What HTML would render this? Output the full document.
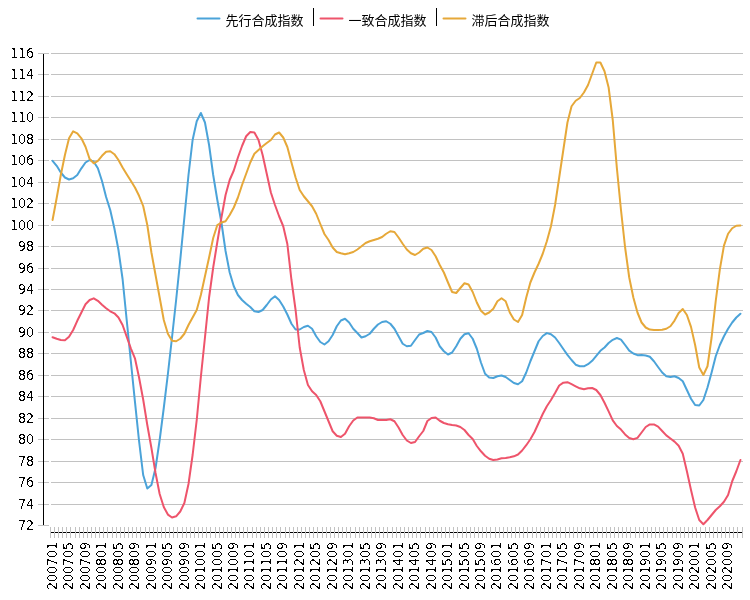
<!DOCTYPE html>
<html><head><meta charset="utf-8"><style>html,body{margin:0;padding:0;background:#fff;width:750px;height:600px;overflow:hidden}svg{display:block}</style></head>
<body><svg width="750" height="600" viewBox="0 0 750 600">
<defs><filter id="fy" filterUnits="userSpaceOnUse" x="0" y="0" width="750" height="600"><feComponentTransfer><feFuncA type="discrete" tableValues="0 0 0 0 0 0 0 0 0 0 0 1 1 1 1 1 1 1 1 1"/></feComponentTransfer></filter><filter id="fx" filterUnits="userSpaceOnUse" x="0" y="0" width="750" height="600"><feComponentTransfer><feFuncA type="discrete" tableValues="0 0 0 0 0 0 0 0 0 0 0 1 1 1 1 1 1 1 1 1"/></feComponentTransfer></filter></defs>
<rect width="750" height="600" fill="#fff"/>
<rect x="51" y="53" width="692" height="1" fill="#c2c2c2"/>
<rect x="38" y="53" width="11" height="1" fill="#c2c2c2"/>
<rect x="51" y="74" width="692" height="1" fill="#c2c2c2"/>
<rect x="38" y="74" width="11" height="1" fill="#c2c2c2"/>
<rect x="51" y="96" width="692" height="1" fill="#c2c2c2"/>
<rect x="38" y="96" width="11" height="1" fill="#c2c2c2"/>
<rect x="51" y="117" width="692" height="1" fill="#c2c2c2"/>
<rect x="38" y="117" width="11" height="1" fill="#c2c2c2"/>
<rect x="51" y="139" width="692" height="1" fill="#c2c2c2"/>
<rect x="38" y="139" width="11" height="1" fill="#c2c2c2"/>
<rect x="51" y="160" width="692" height="1" fill="#c2c2c2"/>
<rect x="38" y="160" width="11" height="1" fill="#c2c2c2"/>
<rect x="51" y="182" width="692" height="1" fill="#c2c2c2"/>
<rect x="38" y="182" width="11" height="1" fill="#c2c2c2"/>
<rect x="51" y="203" width="692" height="1" fill="#c2c2c2"/>
<rect x="38" y="203" width="11" height="1" fill="#c2c2c2"/>
<rect x="51" y="225" width="692" height="1" fill="#c2c2c2"/>
<rect x="38" y="225" width="11" height="1" fill="#c2c2c2"/>
<rect x="51" y="246" width="692" height="1" fill="#c2c2c2"/>
<rect x="38" y="246" width="11" height="1" fill="#c2c2c2"/>
<rect x="51" y="268" width="692" height="1" fill="#c2c2c2"/>
<rect x="38" y="268" width="11" height="1" fill="#c2c2c2"/>
<rect x="51" y="289" width="692" height="1" fill="#c2c2c2"/>
<rect x="38" y="289" width="11" height="1" fill="#c2c2c2"/>
<rect x="51" y="310" width="692" height="1" fill="#c2c2c2"/>
<rect x="38" y="310" width="11" height="1" fill="#c2c2c2"/>
<rect x="51" y="332" width="692" height="1" fill="#c2c2c2"/>
<rect x="38" y="332" width="11" height="1" fill="#c2c2c2"/>
<rect x="51" y="353" width="692" height="1" fill="#c2c2c2"/>
<rect x="38" y="353" width="11" height="1" fill="#c2c2c2"/>
<rect x="51" y="375" width="692" height="1" fill="#c2c2c2"/>
<rect x="38" y="375" width="11" height="1" fill="#c2c2c2"/>
<rect x="51" y="396" width="692" height="1" fill="#c2c2c2"/>
<rect x="38" y="396" width="11" height="1" fill="#c2c2c2"/>
<rect x="51" y="418" width="692" height="1" fill="#c2c2c2"/>
<rect x="38" y="418" width="11" height="1" fill="#c2c2c2"/>
<rect x="51" y="439" width="692" height="1" fill="#c2c2c2"/>
<rect x="38" y="439" width="11" height="1" fill="#c2c2c2"/>
<rect x="51" y="461" width="692" height="1" fill="#c2c2c2"/>
<rect x="38" y="461" width="11" height="1" fill="#c2c2c2"/>
<rect x="51" y="482" width="692" height="1" fill="#c2c2c2"/>
<rect x="38" y="482" width="11" height="1" fill="#c2c2c2"/>
<rect x="51" y="504" width="692" height="1" fill="#c2c2c2"/>
<rect x="38" y="504" width="11" height="1" fill="#c2c2c2"/>
<rect x="38" y="525" width="11" height="1" fill="#c2c2c2"/>
<rect x="43" y="54" width="1" height="471" fill="#000"/>
<rect x="50" y="532" width="693" height="1" fill="#000"/>
<rect x="50" y="527" width="1" height="11" fill="#c2c2c2"/>
<rect x="54" y="527" width="1" height="11" fill="#c2c2c2"/>
<rect x="58" y="527" width="1" height="11" fill="#c2c2c2"/>
<rect x="62" y="527" width="1" height="11" fill="#c2c2c2"/>
<rect x="66" y="527" width="1" height="11" fill="#c2c2c2"/>
<rect x="70" y="527" width="1" height="11" fill="#c2c2c2"/>
<rect x="75" y="527" width="1" height="11" fill="#c2c2c2"/>
<rect x="79" y="527" width="1" height="11" fill="#c2c2c2"/>
<rect x="83" y="527" width="1" height="11" fill="#c2c2c2"/>
<rect x="87" y="527" width="1" height="11" fill="#c2c2c2"/>
<rect x="91" y="527" width="1" height="11" fill="#c2c2c2"/>
<rect x="95" y="527" width="1" height="11" fill="#c2c2c2"/>
<rect x="99" y="527" width="1" height="11" fill="#c2c2c2"/>
<rect x="103" y="527" width="1" height="11" fill="#c2c2c2"/>
<rect x="107" y="527" width="1" height="11" fill="#c2c2c2"/>
<rect x="112" y="527" width="1" height="11" fill="#c2c2c2"/>
<rect x="116" y="527" width="1" height="11" fill="#c2c2c2"/>
<rect x="120" y="527" width="1" height="11" fill="#c2c2c2"/>
<rect x="124" y="527" width="1" height="11" fill="#c2c2c2"/>
<rect x="128" y="527" width="1" height="11" fill="#c2c2c2"/>
<rect x="132" y="527" width="1" height="11" fill="#c2c2c2"/>
<rect x="136" y="527" width="1" height="11" fill="#c2c2c2"/>
<rect x="140" y="527" width="1" height="11" fill="#c2c2c2"/>
<rect x="145" y="527" width="1" height="11" fill="#c2c2c2"/>
<rect x="149" y="527" width="1" height="11" fill="#c2c2c2"/>
<rect x="153" y="527" width="1" height="11" fill="#c2c2c2"/>
<rect x="157" y="527" width="1" height="11" fill="#c2c2c2"/>
<rect x="161" y="527" width="1" height="11" fill="#c2c2c2"/>
<rect x="165" y="527" width="1" height="11" fill="#c2c2c2"/>
<rect x="169" y="527" width="1" height="11" fill="#c2c2c2"/>
<rect x="173" y="527" width="1" height="11" fill="#c2c2c2"/>
<rect x="177" y="527" width="1" height="11" fill="#c2c2c2"/>
<rect x="182" y="527" width="1" height="11" fill="#c2c2c2"/>
<rect x="186" y="527" width="1" height="11" fill="#c2c2c2"/>
<rect x="190" y="527" width="1" height="11" fill="#c2c2c2"/>
<rect x="194" y="527" width="1" height="11" fill="#c2c2c2"/>
<rect x="198" y="527" width="1" height="11" fill="#c2c2c2"/>
<rect x="202" y="527" width="1" height="11" fill="#c2c2c2"/>
<rect x="206" y="527" width="1" height="11" fill="#c2c2c2"/>
<rect x="210" y="527" width="1" height="11" fill="#c2c2c2"/>
<rect x="215" y="527" width="1" height="11" fill="#c2c2c2"/>
<rect x="219" y="527" width="1" height="11" fill="#c2c2c2"/>
<rect x="223" y="527" width="1" height="11" fill="#c2c2c2"/>
<rect x="227" y="527" width="1" height="11" fill="#c2c2c2"/>
<rect x="231" y="527" width="1" height="11" fill="#c2c2c2"/>
<rect x="235" y="527" width="1" height="11" fill="#c2c2c2"/>
<rect x="239" y="527" width="1" height="11" fill="#c2c2c2"/>
<rect x="243" y="527" width="1" height="11" fill="#c2c2c2"/>
<rect x="247" y="527" width="1" height="11" fill="#c2c2c2"/>
<rect x="252" y="527" width="1" height="11" fill="#c2c2c2"/>
<rect x="256" y="527" width="1" height="11" fill="#c2c2c2"/>
<rect x="260" y="527" width="1" height="11" fill="#c2c2c2"/>
<rect x="264" y="527" width="1" height="11" fill="#c2c2c2"/>
<rect x="268" y="527" width="1" height="11" fill="#c2c2c2"/>
<rect x="272" y="527" width="1" height="11" fill="#c2c2c2"/>
<rect x="276" y="527" width="1" height="11" fill="#c2c2c2"/>
<rect x="280" y="527" width="1" height="11" fill="#c2c2c2"/>
<rect x="285" y="527" width="1" height="11" fill="#c2c2c2"/>
<rect x="289" y="527" width="1" height="11" fill="#c2c2c2"/>
<rect x="293" y="527" width="1" height="11" fill="#c2c2c2"/>
<rect x="297" y="527" width="1" height="11" fill="#c2c2c2"/>
<rect x="301" y="527" width="1" height="11" fill="#c2c2c2"/>
<rect x="305" y="527" width="1" height="11" fill="#c2c2c2"/>
<rect x="309" y="527" width="1" height="11" fill="#c2c2c2"/>
<rect x="313" y="527" width="1" height="11" fill="#c2c2c2"/>
<rect x="317" y="527" width="1" height="11" fill="#c2c2c2"/>
<rect x="322" y="527" width="1" height="11" fill="#c2c2c2"/>
<rect x="326" y="527" width="1" height="11" fill="#c2c2c2"/>
<rect x="330" y="527" width="1" height="11" fill="#c2c2c2"/>
<rect x="334" y="527" width="1" height="11" fill="#c2c2c2"/>
<rect x="338" y="527" width="1" height="11" fill="#c2c2c2"/>
<rect x="342" y="527" width="1" height="11" fill="#c2c2c2"/>
<rect x="346" y="527" width="1" height="11" fill="#c2c2c2"/>
<rect x="350" y="527" width="1" height="11" fill="#c2c2c2"/>
<rect x="355" y="527" width="1" height="11" fill="#c2c2c2"/>
<rect x="359" y="527" width="1" height="11" fill="#c2c2c2"/>
<rect x="363" y="527" width="1" height="11" fill="#c2c2c2"/>
<rect x="367" y="527" width="1" height="11" fill="#c2c2c2"/>
<rect x="371" y="527" width="1" height="11" fill="#c2c2c2"/>
<rect x="375" y="527" width="1" height="11" fill="#c2c2c2"/>
<rect x="379" y="527" width="1" height="11" fill="#c2c2c2"/>
<rect x="383" y="527" width="1" height="11" fill="#c2c2c2"/>
<rect x="387" y="527" width="1" height="11" fill="#c2c2c2"/>
<rect x="392" y="527" width="1" height="11" fill="#c2c2c2"/>
<rect x="396" y="527" width="1" height="11" fill="#c2c2c2"/>
<rect x="400" y="527" width="1" height="11" fill="#c2c2c2"/>
<rect x="404" y="527" width="1" height="11" fill="#c2c2c2"/>
<rect x="408" y="527" width="1" height="11" fill="#c2c2c2"/>
<rect x="412" y="527" width="1" height="11" fill="#c2c2c2"/>
<rect x="416" y="527" width="1" height="11" fill="#c2c2c2"/>
<rect x="420" y="527" width="1" height="11" fill="#c2c2c2"/>
<rect x="425" y="527" width="1" height="11" fill="#c2c2c2"/>
<rect x="429" y="527" width="1" height="11" fill="#c2c2c2"/>
<rect x="433" y="527" width="1" height="11" fill="#c2c2c2"/>
<rect x="437" y="527" width="1" height="11" fill="#c2c2c2"/>
<rect x="441" y="527" width="1" height="11" fill="#c2c2c2"/>
<rect x="445" y="527" width="1" height="11" fill="#c2c2c2"/>
<rect x="449" y="527" width="1" height="11" fill="#c2c2c2"/>
<rect x="453" y="527" width="1" height="11" fill="#c2c2c2"/>
<rect x="457" y="527" width="1" height="11" fill="#c2c2c2"/>
<rect x="462" y="527" width="1" height="11" fill="#c2c2c2"/>
<rect x="466" y="527" width="1" height="11" fill="#c2c2c2"/>
<rect x="470" y="527" width="1" height="11" fill="#c2c2c2"/>
<rect x="474" y="527" width="1" height="11" fill="#c2c2c2"/>
<rect x="478" y="527" width="1" height="11" fill="#c2c2c2"/>
<rect x="482" y="527" width="1" height="11" fill="#c2c2c2"/>
<rect x="486" y="527" width="1" height="11" fill="#c2c2c2"/>
<rect x="490" y="527" width="1" height="11" fill="#c2c2c2"/>
<rect x="495" y="527" width="1" height="11" fill="#c2c2c2"/>
<rect x="499" y="527" width="1" height="11" fill="#c2c2c2"/>
<rect x="503" y="527" width="1" height="11" fill="#c2c2c2"/>
<rect x="507" y="527" width="1" height="11" fill="#c2c2c2"/>
<rect x="511" y="527" width="1" height="11" fill="#c2c2c2"/>
<rect x="515" y="527" width="1" height="11" fill="#c2c2c2"/>
<rect x="519" y="527" width="1" height="11" fill="#c2c2c2"/>
<rect x="523" y="527" width="1" height="11" fill="#c2c2c2"/>
<rect x="527" y="527" width="1" height="11" fill="#c2c2c2"/>
<rect x="532" y="527" width="1" height="11" fill="#c2c2c2"/>
<rect x="536" y="527" width="1" height="11" fill="#c2c2c2"/>
<rect x="540" y="527" width="1" height="11" fill="#c2c2c2"/>
<rect x="544" y="527" width="1" height="11" fill="#c2c2c2"/>
<rect x="548" y="527" width="1" height="11" fill="#c2c2c2"/>
<rect x="552" y="527" width="1" height="11" fill="#c2c2c2"/>
<rect x="556" y="527" width="1" height="11" fill="#c2c2c2"/>
<rect x="560" y="527" width="1" height="11" fill="#c2c2c2"/>
<rect x="565" y="527" width="1" height="11" fill="#c2c2c2"/>
<rect x="569" y="527" width="1" height="11" fill="#c2c2c2"/>
<rect x="573" y="527" width="1" height="11" fill="#c2c2c2"/>
<rect x="577" y="527" width="1" height="11" fill="#c2c2c2"/>
<rect x="581" y="527" width="1" height="11" fill="#c2c2c2"/>
<rect x="585" y="527" width="1" height="11" fill="#c2c2c2"/>
<rect x="589" y="527" width="1" height="11" fill="#c2c2c2"/>
<rect x="593" y="527" width="1" height="11" fill="#c2c2c2"/>
<rect x="597" y="527" width="1" height="11" fill="#c2c2c2"/>
<rect x="602" y="527" width="1" height="11" fill="#c2c2c2"/>
<rect x="606" y="527" width="1" height="11" fill="#c2c2c2"/>
<rect x="610" y="527" width="1" height="11" fill="#c2c2c2"/>
<rect x="614" y="527" width="1" height="11" fill="#c2c2c2"/>
<rect x="618" y="527" width="1" height="11" fill="#c2c2c2"/>
<rect x="622" y="527" width="1" height="11" fill="#c2c2c2"/>
<rect x="626" y="527" width="1" height="11" fill="#c2c2c2"/>
<rect x="630" y="527" width="1" height="11" fill="#c2c2c2"/>
<rect x="635" y="527" width="1" height="11" fill="#c2c2c2"/>
<rect x="639" y="527" width="1" height="11" fill="#c2c2c2"/>
<rect x="643" y="527" width="1" height="11" fill="#c2c2c2"/>
<rect x="647" y="527" width="1" height="11" fill="#c2c2c2"/>
<rect x="651" y="527" width="1" height="11" fill="#c2c2c2"/>
<rect x="655" y="527" width="1" height="11" fill="#c2c2c2"/>
<rect x="659" y="527" width="1" height="11" fill="#c2c2c2"/>
<rect x="663" y="527" width="1" height="11" fill="#c2c2c2"/>
<rect x="667" y="527" width="1" height="11" fill="#c2c2c2"/>
<rect x="672" y="527" width="1" height="11" fill="#c2c2c2"/>
<rect x="676" y="527" width="1" height="11" fill="#c2c2c2"/>
<rect x="680" y="527" width="1" height="11" fill="#c2c2c2"/>
<rect x="684" y="527" width="1" height="11" fill="#c2c2c2"/>
<rect x="688" y="527" width="1" height="11" fill="#c2c2c2"/>
<rect x="692" y="527" width="1" height="11" fill="#c2c2c2"/>
<rect x="696" y="527" width="1" height="11" fill="#c2c2c2"/>
<rect x="700" y="527" width="1" height="11" fill="#c2c2c2"/>
<rect x="705" y="527" width="1" height="11" fill="#c2c2c2"/>
<rect x="709" y="527" width="1" height="11" fill="#c2c2c2"/>
<rect x="713" y="527" width="1" height="11" fill="#c2c2c2"/>
<rect x="717" y="527" width="1" height="11" fill="#c2c2c2"/>
<rect x="721" y="527" width="1" height="11" fill="#c2c2c2"/>
<rect x="725" y="527" width="1" height="11" fill="#c2c2c2"/>
<rect x="729" y="527" width="1" height="11" fill="#c2c2c2"/>
<rect x="733" y="527" width="1" height="11" fill="#c2c2c2"/>
<rect x="737" y="527" width="1" height="11" fill="#c2c2c2"/>
<rect x="742" y="527" width="1" height="11" fill="#c2c2c2"/>
<path d="M52.56,160.80 L56.68,165.80 L60.80,172.50 L64.92,177.50 L69.04,179.50 L73.16,178.30 L77.27,175.00 L81.39,168.30 L85.51,162.50 L89.63,160.00 L93.75,161.70 L97.87,168.30 L101.99,181.00 L106.11,197.00 L110.23,210.00 L114.35,228.30 L118.46,250.00 L122.58,279.00 L126.70,320.00 L130.82,361.00 L134.94,401.70 L139.06,441.00 L143.18,475.00 L147.30,488.50 L151.42,485.00 L155.54,468.00 L159.66,440.00 L163.77,408.00 L167.89,374.00 L172.01,337.50 L176.13,300.00 L180.25,260.00 L184.37,217.50 L188.49,175.00 L192.61,140.00 L196.73,121.25 L200.85,113.00 L204.96,122.50 L209.08,145.00 L213.20,175.00 L217.32,200.00 L221.44,222.50 L225.56,251.00 L229.68,272.50 L233.80,286.25 L237.92,295.00 L242.04,300.00 L246.16,303.75 L250.27,307.00 L254.39,311.25 L258.51,312.00 L262.63,310.00 L266.75,305.00 L270.87,299.50 L274.99,296.25 L279.11,300.00 L283.23,306.50 L287.35,314.50 L291.46,323.75 L295.58,329.50 L299.70,329.50 L303.82,327.00 L307.94,325.75 L312.06,328.75 L316.18,336.25 L320.30,342.00 L324.42,344.50 L328.54,341.25 L332.66,335.00 L336.77,326.25 L340.89,320.50 L345.01,318.75 L349.13,322.50 L353.25,328.75 L357.37,333.00 L361.49,337.50 L365.61,336.25 L369.73,333.75 L373.85,328.75 L377.96,324.50 L382.08,322.00 L386.20,321.25 L390.32,323.75 L394.44,328.75 L398.56,336.25 L402.68,343.75 L406.80,346.25 L410.92,345.75 L415.04,340.00 L419.16,334.50 L423.27,333.00 L427.39,331.00 L431.51,332.00 L435.63,337.50 L439.75,346.25 L443.87,351.25 L447.99,354.50 L452.11,352.50 L456.23,346.25 L460.35,338.75 L464.46,334.25 L468.58,333.25 L472.70,338.75 L476.82,348.75 L480.94,362.50 L485.06,373.75 L489.18,377.50 L493.30,378.00 L497.42,376.25 L501.54,375.50 L505.66,377.00 L509.77,380.00 L513.89,383.00 L518.01,384.25 L522.13,381.25 L526.25,372.50 L530.37,361.25 L534.49,351.25 L538.61,341.25 L542.73,336.00 L546.85,333.10 L550.96,334.20 L555.08,337.50 L559.20,343.00 L563.32,349.00 L567.44,354.80 L571.56,360.00 L575.68,364.70 L579.80,366.30 L583.92,366.30 L588.04,364.20 L592.16,360.80 L596.27,355.80 L600.39,350.80 L604.51,347.50 L608.63,343.00 L612.75,339.80 L616.87,338.00 L620.99,339.60 L625.11,345.00 L629.23,350.70 L633.35,353.50 L637.46,355.20 L641.58,355.00 L645.70,355.50 L649.82,356.75 L653.94,361.25 L658.06,367.00 L662.18,372.50 L666.30,376.25 L670.42,377.00 L674.54,376.25 L678.66,378.00 L682.77,381.25 L686.89,390.00 L691.01,398.75 L695.13,405.00 L699.25,405.50 L703.37,400.00 L707.49,387.50 L711.61,372.50 L715.73,356.25 L719.85,345.00 L723.96,336.25 L728.08,328.75 L732.20,322.50 L736.32,317.50 L740.44,313.75" fill="none" stroke="#4ba3d9" stroke-width="2" stroke-linejoin="round" stroke-linecap="round"/>
<path d="M52.56,337.20 L56.68,338.70 L60.80,340.00 L64.92,340.30 L69.04,336.70 L73.16,330.00 L77.27,320.80 L81.39,312.50 L85.51,304.20 L89.63,300.00 L93.75,298.30 L97.87,300.80 L101.99,304.70 L106.11,308.30 L110.23,311.30 L114.35,313.30 L118.46,317.50 L122.58,325.00 L126.70,336.70 L130.82,348.30 L134.94,358.30 L139.06,377.50 L143.18,399.50 L147.30,425.00 L151.42,448.00 L155.54,473.00 L159.66,494.00 L163.77,507.00 L167.89,514.60 L172.01,517.50 L176.13,516.30 L180.25,511.50 L184.37,503.00 L188.49,484.00 L192.61,455.00 L196.73,420.00 L200.85,377.00 L204.96,337.50 L209.08,297.50 L213.20,267.50 L217.32,242.00 L221.44,217.50 L225.56,195.00 L229.68,180.00 L233.80,170.50 L237.92,157.50 L242.04,146.00 L246.16,136.25 L250.27,132.00 L254.39,132.50 L258.51,140.00 L262.63,155.00 L266.75,173.75 L270.87,192.50 L274.99,205.00 L279.11,216.25 L283.23,226.25 L287.35,244.00 L291.46,280.00 L295.58,310.00 L299.70,347.50 L303.82,370.00 L307.94,385.00 L312.06,391.25 L316.18,395.00 L320.30,401.25 L324.42,411.25 L328.54,421.25 L332.66,431.25 L336.77,435.75 L340.89,437.00 L345.01,433.75 L349.13,426.25 L353.25,420.50 L357.37,417.50 L361.49,417.50 L365.61,417.50 L369.73,417.50 L373.85,418.25 L377.96,420.00 L382.08,420.00 L386.20,420.00 L390.32,419.25 L394.44,421.25 L398.56,427.50 L402.68,435.00 L406.80,440.50 L410.92,443.00 L415.04,442.00 L419.16,436.25 L423.27,431.00 L427.39,421.00 L431.51,418.00 L435.63,417.50 L439.75,420.75 L443.87,423.00 L447.99,424.25 L452.11,425.00 L456.23,425.50 L460.35,427.00 L464.46,430.00 L468.58,435.00 L472.70,439.00 L476.82,446.00 L480.94,451.30 L485.06,455.70 L489.18,458.70 L493.30,460.00 L497.42,459.50 L501.54,458.30 L505.66,458.00 L509.77,457.20 L513.89,456.30 L518.01,454.50 L522.13,450.50 L526.25,445.20 L530.37,439.30 L534.49,432.00 L538.61,423.00 L542.73,414.00 L546.85,406.20 L550.96,400.00 L555.08,393.00 L559.20,385.50 L563.32,382.70 L567.44,382.20 L571.56,384.20 L575.68,386.30 L579.80,388.30 L583.92,389.20 L588.04,388.30 L592.16,388.00 L596.27,390.00 L600.39,395.00 L604.51,402.80 L608.63,411.40 L612.75,420.40 L616.87,426.00 L620.99,429.60 L625.11,434.40 L629.23,438.00 L633.35,439.25 L637.46,437.90 L641.58,432.50 L645.70,427.00 L649.82,424.40 L653.94,424.40 L658.06,426.60 L662.18,431.00 L666.30,435.40 L670.42,438.50 L674.54,441.60 L678.66,445.80 L682.77,453.75 L686.89,471.25 L691.01,490.00 L695.13,507.50 L699.25,520.00 L703.37,524.25 L707.49,520.00 L711.61,515.00 L715.73,510.00 L719.85,506.25 L723.96,501.75 L728.08,495.00 L732.20,481.25 L736.32,471.25 L740.44,460.00" fill="none" stroke="#ee546b" stroke-width="2" stroke-linejoin="round" stroke-linecap="round"/>
<path d="M52.56,220.00 L56.68,198.00 L60.80,175.00 L64.92,155.00 L69.04,138.30 L73.16,131.30 L77.27,133.30 L81.39,138.30 L85.51,146.70 L89.63,159.00 L93.75,163.30 L97.87,160.80 L101.99,155.80 L106.11,151.70 L110.23,151.30 L114.35,154.20 L118.46,160.00 L122.58,167.50 L126.70,174.20 L130.82,180.80 L134.94,187.50 L139.06,195.80 L143.18,206.00 L147.30,225.00 L151.42,252.50 L155.54,275.00 L159.66,297.50 L163.77,320.00 L167.89,333.75 L172.01,340.75 L176.13,341.25 L180.25,338.75 L184.37,333.75 L188.49,325.00 L192.61,317.50 L196.73,310.00 L200.85,295.00 L204.96,276.25 L209.08,257.50 L213.20,238.00 L217.32,225.00 L221.44,222.50 L225.56,221.25 L229.68,215.00 L233.80,207.50 L237.92,197.50 L242.04,185.00 L246.16,173.75 L250.27,162.50 L254.39,153.75 L258.51,150.00 L262.63,146.25 L266.75,143.00 L270.87,140.00 L274.99,134.50 L279.11,132.50 L283.23,137.50 L287.35,147.00 L291.46,162.50 L295.58,177.50 L299.70,190.00 L303.82,196.25 L307.94,201.25 L312.06,206.25 L316.18,213.75 L320.30,224.00 L324.42,234.00 L328.54,240.00 L332.66,247.50 L336.77,252.00 L340.89,253.25 L345.01,254.25 L349.13,253.25 L353.25,252.00 L357.37,249.50 L361.49,246.25 L365.61,243.00 L369.73,241.25 L373.85,240.00 L377.96,238.75 L382.08,237.00 L386.20,233.75 L390.32,231.25 L394.44,232.00 L398.56,237.50 L402.68,243.75 L406.80,249.50 L410.92,253.25 L415.04,255.00 L419.16,252.50 L423.27,248.75 L427.39,247.50 L431.51,250.00 L435.63,256.25 L439.75,265.00 L443.87,272.50 L447.99,282.50 L452.11,292.00 L456.23,293.00 L460.35,288.00 L464.46,283.25 L468.58,284.50 L472.70,292.00 L476.82,302.50 L480.94,310.75 L485.06,314.50 L489.18,312.50 L493.30,308.75 L497.42,301.25 L501.54,298.25 L505.66,301.25 L509.77,312.50 L513.89,319.50 L518.01,322.00 L522.13,315.00 L526.25,297.50 L530.37,282.50 L534.49,272.50 L538.61,263.75 L542.73,253.75 L546.85,241.25 L550.96,226.25 L555.08,205.00 L559.20,177.50 L563.32,150.00 L567.44,122.50 L571.56,106.25 L575.68,100.75 L579.80,98.00 L583.92,92.50 L588.04,85.00 L592.16,73.75 L596.27,62.50 L600.39,62.50 L604.51,71.25 L608.63,87.50 L612.75,120.00 L616.87,168.00 L620.99,210.00 L625.11,247.50 L629.23,277.50 L633.35,297.50 L637.46,312.50 L641.58,322.50 L645.70,327.50 L649.82,329.60 L653.94,330.00 L658.06,330.00 L662.18,329.75 L666.30,328.75 L670.42,326.25 L674.54,320.60 L678.66,313.00 L682.77,309.00 L686.89,315.00 L691.01,326.90 L695.13,345.00 L699.25,367.50 L703.37,375.00 L707.49,366.25 L711.61,337.50 L715.73,301.00 L719.85,269.40 L723.96,245.60 L728.08,233.75 L732.20,228.25 L736.32,225.75 L740.44,225.50" fill="none" stroke="#e6a839" stroke-width="2" stroke-linejoin="round" stroke-linecap="round"/>
<line x1="197.5" y1="18.5" x2="219.5" y2="18.5" stroke="#4ba3d9" stroke-width="2" stroke-linecap="round"/>
<line x1="320.5" y1="18.5" x2="342.5" y2="18.5" stroke="#ee546b" stroke-width="2" stroke-linecap="round"/>
<line x1="443.5" y1="18.5" x2="465.5" y2="18.5" stroke="#e6a839" stroke-width="2" stroke-linecap="round"/>
<rect x="313" y="8" width="1" height="18" fill="#000"/>
<rect x="436" y="8" width="1" height="18" fill="#000"/>
<g filter="url(#fy)" font-family="'DejaVu Sans Condensed','DejaVu Sans','Liberation Sans',sans-serif" font-stretch="condensed" font-size="14" text-anchor="end" fill="#000">
<text x="34" y="57.6">116</text>
<text x="34" y="78.6">114</text>
<text x="34" y="100.6">112</text>
<text x="34" y="121.6">110</text>
<text x="34" y="143.6">108</text>
<text x="34" y="164.6">106</text>
<text x="34" y="186.6">104</text>
<text x="34" y="207.6">102</text>
<text x="34" y="229.6">100</text>
<text x="34" y="250.6">98</text>
<text x="34" y="272.6">96</text>
<text x="34" y="293.6">94</text>
<text x="34" y="314.6">92</text>
<text x="34" y="336.6">90</text>
<text x="34" y="357.6">88</text>
<text x="34" y="379.6">86</text>
<text x="34" y="400.6">84</text>
<text x="34" y="422.6">82</text>
<text x="34" y="443.6">80</text>
<text x="34" y="465.6">78</text>
<text x="34" y="486.6">76</text>
<text x="34" y="508.6">74</text>
<text x="34" y="529.6">72</text>
</g>
<g filter="url(#fx)" font-family="'DejaVu Sans Condensed','DejaVu Sans','Liberation Sans',sans-serif" font-stretch="condensed" font-size="14" text-anchor="end" fill="#000">
<text transform="translate(57,542.0) rotate(-90)">200701</text>
<text transform="translate(73,542.0) rotate(-90)">200705</text>
<text transform="translate(90,542.0) rotate(-90)">200709</text>
<text transform="translate(106,542.0) rotate(-90)">200801</text>
<text transform="translate(123,542.0) rotate(-90)">200805</text>
<text transform="translate(139,542.0) rotate(-90)">200809</text>
<text transform="translate(156,542.0) rotate(-90)">200901</text>
<text transform="translate(172,542.0) rotate(-90)">200905</text>
<text transform="translate(189,542.0) rotate(-90)">200909</text>
<text transform="translate(205,542.0) rotate(-90)">201001</text>
<text transform="translate(222,542.0) rotate(-90)">201005</text>
<text transform="translate(238,542.0) rotate(-90)">201009</text>
<text transform="translate(254,542.0) rotate(-90)">201101</text>
<text transform="translate(271,542.0) rotate(-90)">201105</text>
<text transform="translate(287,542.0) rotate(-90)">201109</text>
<text transform="translate(304,542.0) rotate(-90)">201201</text>
<text transform="translate(320,542.0) rotate(-90)">201205</text>
<text transform="translate(337,542.0) rotate(-90)">201209</text>
<text transform="translate(353,542.0) rotate(-90)">201301</text>
<text transform="translate(370,542.0) rotate(-90)">201305</text>
<text transform="translate(386,542.0) rotate(-90)">201309</text>
<text transform="translate(403,542.0) rotate(-90)">201401</text>
<text transform="translate(419,542.0) rotate(-90)">201405</text>
<text transform="translate(436,542.0) rotate(-90)">201409</text>
<text transform="translate(452,542.0) rotate(-90)">201501</text>
<text transform="translate(469,542.0) rotate(-90)">201505</text>
<text transform="translate(485,542.0) rotate(-90)">201509</text>
<text transform="translate(501,542.0) rotate(-90)">201601</text>
<text transform="translate(518,542.0) rotate(-90)">201605</text>
<text transform="translate(534,542.0) rotate(-90)">201609</text>
<text transform="translate(551,542.0) rotate(-90)">201701</text>
<text transform="translate(567,542.0) rotate(-90)">201705</text>
<text transform="translate(584,542.0) rotate(-90)">201709</text>
<text transform="translate(600,542.0) rotate(-90)">201801</text>
<text transform="translate(617,542.0) rotate(-90)">201805</text>
<text transform="translate(633,542.0) rotate(-90)">201809</text>
<text transform="translate(650,542.0) rotate(-90)">201901</text>
<text transform="translate(666,542.0) rotate(-90)">201905</text>
<text transform="translate(683,542.0) rotate(-90)">201909</text>
<text transform="translate(699,542.0) rotate(-90)">202001</text>
<text transform="translate(716,542.0) rotate(-90)">202005</text>
<text transform="translate(732,542.0) rotate(-90)">202009</text>
</g>
<g  font-family="'Liberation Sans','Noto Sans CJK SC','WenQuanYi Zen Hei',sans-serif" font-size="13" fill="#000">
<text x="225.5" y="24.5">先行合成指数</text>
<text x="348.5" y="24.5">一致合成指数</text>
<text x="471.5" y="24.5">滞后合成指数</text>
</g>
</svg></body></html>
